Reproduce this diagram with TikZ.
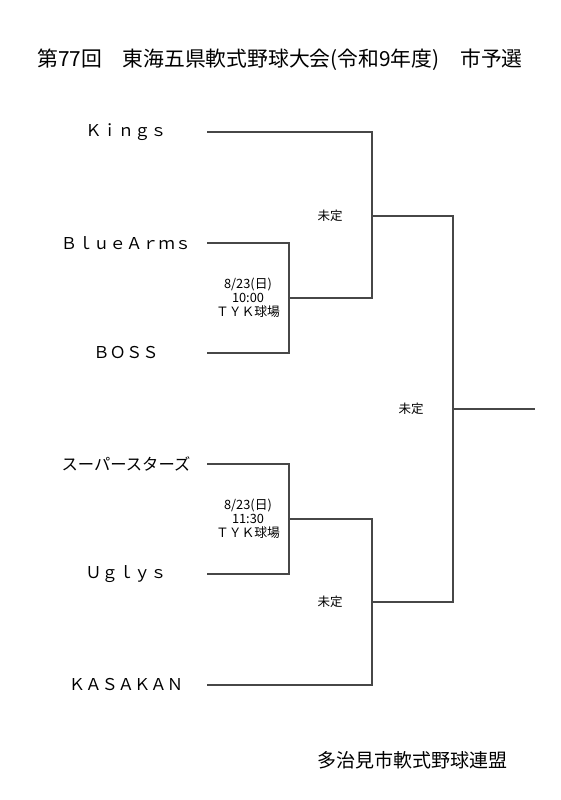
\documentclass[tikz,border=0pt]{standalone}
\usepackage{fontspec}
\setmainfont{Noto Sans CJK JP}
\tikzset{
  team/.style={font=\fontsize{16.3}{18}\selectfont},
  info/.style={font=\fontsize{12.8}{13.8}\selectfont, align=center, inner sep=0pt},
  tbd/.style={font=\fontsize{12.5}{14}\selectfont, inner sep=0pt},
  bline/.style={draw=black!72, line width=1.1pt}
}
\begin{document}
\begin{tikzpicture}[x=1pt,y=-1pt]
\useasboundingbox[fill=white] (0,0) rectangle (561,800);

\node (title) at (280,60) {\fontsize{20.8}{23}\selectfont 第77回　東海五県軟式野球大会(令和9年度)　市予選};

\node[team] (kings) at (126,132) {Ｋｉｎｇｓ};
\node[team] (bluearms) at (126,243) {ＢｌｕｅＡｒｍｓ};
\node[team] (boss) at (126,353) {ＢＯＳＳ};
\node[team] (superstars) at (126,464) {スーパースターズ};
\node[team] (uglys) at (126,574) {Ｕｇｌｙｓ};
\node[team] (kasakan) at (126,685) {ＫＡＳＡＫＡＮ};

\coordinate (a1) at (207,132);
\coordinate (a2) at (207,243);
\coordinate (a3) at (207,353);
\coordinate (a4) at (207,464);
\coordinate (a5) at (207,574);
\coordinate (a6) at (207,685);
\coordinate (b1) at (289,298);
\coordinate (b2) at (289,519);
\coordinate (c1) at (372,216);
\coordinate (c2) at (372,602);
\coordinate (d) at (453,409);
\coordinate (w) at (535,409);

\path[bline] (a2) -| (b1);
\path[bline] (a3) -| (b1);
\path[bline] (b1) -| (c1);
\path[bline] (a1) -| (c1);
\path[bline] (a4) -| (b2);
\path[bline] (a5) -| (b2);
\path[bline] (b2) -| (c2);
\path[bline] (a6) -| (c2);
\path[bline] (c1) -| (d);
\path[bline] (c2) -| (d);
\path[bline] (d) -- (w);

\node[info] (game1) at (248,298) {8/23(日)\\10:00\\ＴＹＫ球場};
\node[info] (game2) at (248,519) {8/23(日)\\11:30\\ＴＹＫ球場};
\node[tbd] (tbd1) at (330,216) {未定};
\node[tbd] (tbd2) at (411,409) {未定};
\node[tbd] (tbd3) at (330,602) {未定};

\node (league) at (412,760) {\fontsize{19}{22}\selectfont 多治見市軟式野球連盟};
\end{tikzpicture}
\end{document}
